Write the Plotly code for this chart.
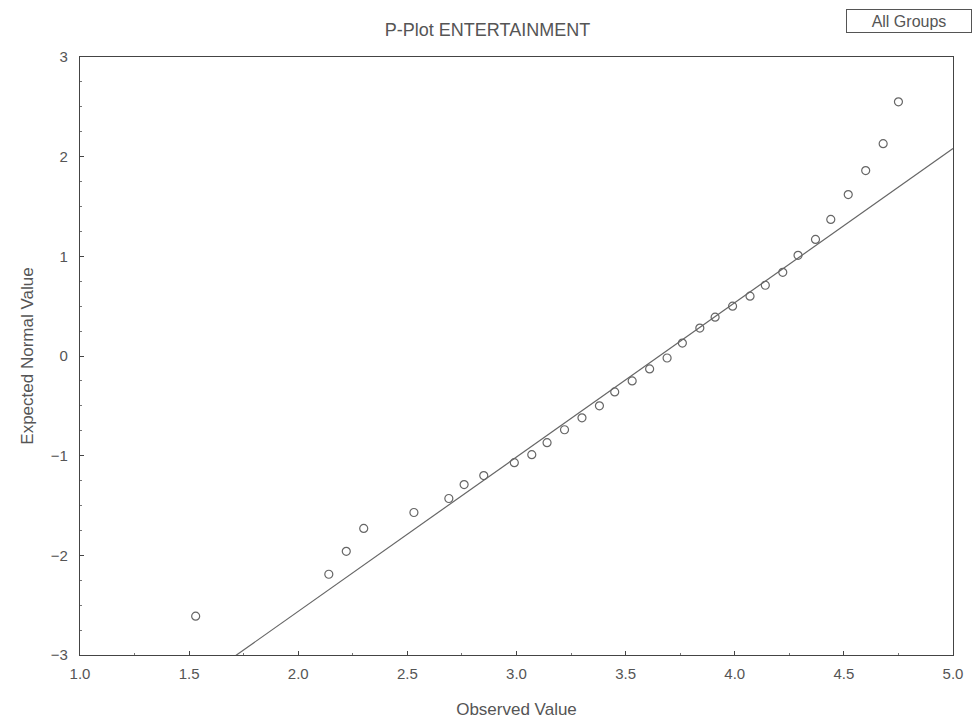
import plotly.graph_objects as go

# Observed values (sorted) and their expected normal scores
observed = [1.53, 2.14, 2.22, 2.30, 2.53, 2.69, 2.76, 2.85, 2.99, 3.07, 3.14,
            3.22, 3.30, 3.38, 3.45, 3.53, 3.61, 3.69, 3.76, 3.84, 3.91, 3.99,
            4.07, 4.14, 4.22, 4.29, 4.37, 4.44, 4.52, 4.60, 4.68, 4.75]
expected = [-2.61, -2.19, -1.96, -1.73, -1.57, -1.43, -1.29, -1.20, -1.07, -0.99,
            -0.87, -0.74, -0.62, -0.50, -0.36, -0.25, -0.13, -0.02, 0.13, 0.28,
            0.39, 0.50, 0.60, 0.71, 0.84, 1.01, 1.17, 1.37, 1.62, 1.86, 2.13, 2.55]

# Reference normal line parameters
fit_mean = 3.655
fit_sd = 0.646

x_ticks = [1.0, 1.5, 2.0, 2.5, 3.0, 3.5, 4.0, 4.5, 5.0]
y_ticks = [-3, -2, -1, 0, 1, 2, 3]

line_x = [1.0, 5.0]
line_y = [(v - fit_mean) / fit_sd for v in line_x]

ink = "#555555"
font_family = "Liberation Sans, Arial, sans-serif"

fig = go.Figure()
fig.add_trace(go.Scatter(
    x=line_x, y=line_y, mode="lines",
    line=dict(color="#666666", width=1.2),
    showlegend=False, hoverinfo="skip",
))
fig.add_trace(go.Scatter(
    x=observed, y=expected, mode="markers",
    marker=dict(symbol="circle-open", size=8, color="#666666",
                line=dict(width=1.2, color="#666666")),
    showlegend=False, cliponaxis=False,
))

axis_common = dict(
    showgrid=False, zeroline=False, showline=True, mirror=True,
    linecolor="#444444", linewidth=1.2,
    ticks="inside", ticklen=4, tickcolor="#444444",
    tickfont=dict(family=font_family, size=15, color=ink),
    minor=dict(ticks="inside", ticklen=2, tickcolor="#777777"),
)

fig.update_xaxes(
    range=[1.0, 5.0], tickvals=x_ticks, tickformat=".1f",
    title=dict(text="Observed Value", font=dict(family=font_family, size=17, color=ink),
               standoff=22),
    ticklabelstandoff=5,
    **axis_common,
)
fig.update_xaxes(minor_dtick=0.25)
fig.update_yaxes(
    range=[-3, 3], tickvals=y_ticks,
    title=dict(text="Expected Normal Value", font=dict(family=font_family, size=17, color=ink),
               standoff=12),
    ticklabelstandoff=8,
    **axis_common,
)
fig.update_yaxes(minor_dtick=0.25)

fig.update_layout(
    width=975, height=727,
    margin=dict(l=80, r=22, t=57, b=72),
    plot_bgcolor="white", paper_bgcolor="white",
    title=dict(text="P-Plot ENTERTAINMENT", x=0.5, xanchor="center",
               y=1 - 30 / 727, yanchor="middle",
               font=dict(family=font_family, size=18, color=ink)),
    annotations=[dict(
        text="All Groups", xref="paper", yref="paper",
        x=1.022, y=1 + 36 / 598, xanchor="right", yanchor="middle",
        width=120, height=18, align="center",
        showarrow=False, bordercolor="#555555", borderwidth=1, borderpad=2,
        font=dict(family=font_family, size=16, color=ink), bgcolor="white",
    )],
)

fig.write_html("out.html")
